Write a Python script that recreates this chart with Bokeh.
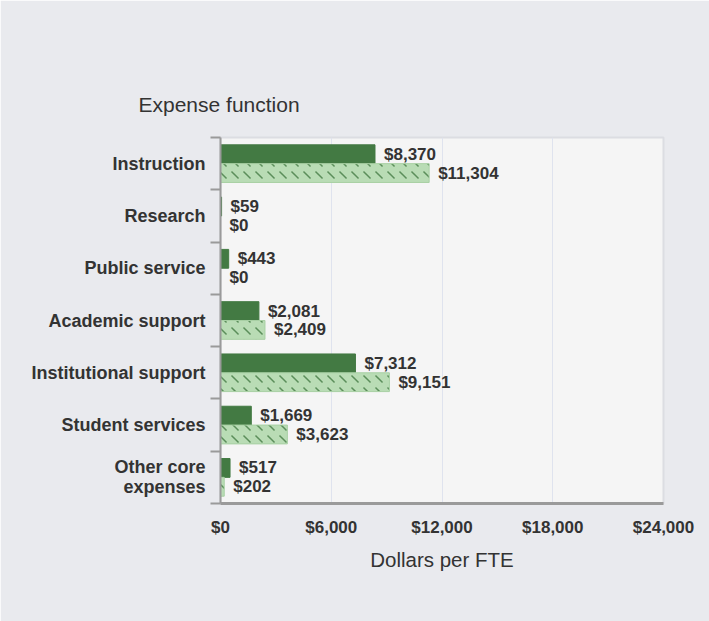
from bokeh.plotting import figure
from bokeh.models import (ColumnDataSource, Range1d, LinearAxis,
                          FixedTicker, Legend, LegendItem, CustomJSTickFormatter)
from bokeh.transform import dodge
from bokeh.embed import file_html
from bokeh.resources import INLINE
from bokeh.core.properties import value

# ---- data ----
categories = ["Instruction", "Research", "Public service", "Academic support",
              "Institutional support", "Student services", "Other core expenses"]
your_institution = [8370, 59, 443, 2081, 7312, 1669, 517]
comparison_median = [11304, 0, 0, 2409, 9151, 3623, 202]
x_ticks = [0, 6000, 12000, 18000, 24000]
x_tick_labels = ["$0", "$6,000", "$12,000", "$18,000", "$24,000"]
series_names = ["Your institution", "Comparison Group Median (N=22)"]
title_text = "Expense function"
x_title = "Dollars per FTE"
category_display = {"Other core expenses": "Other core\nexpenses"}

# ---- style ----
FONT = "Liberation Sans"
DARK = "#437a43"
LIGHT = "#b9dcb5"
TXT = "#333333"
PANEL = "#e9eaee"
SMALL = "17px"

n = len(categories)
idx = list(range(n))
src = ColumnDataSource(dict(
    pos=idx,
    mine=your_institution,
    comp=comparison_median,
    mine_lbl=[f"${v:,}" for v in your_institution],
    comp_lbl=[f"${v:,}" for v in comparison_median],
))

p = figure(frame_width=443, frame_height=366, output_backend="svg",
           toolbar_location=None,
           x_range=Range1d(x_ticks[0], x_ticks[-1]),
           y_range=Range1d(n - 0.5, -0.5),
           y_axis_location=None, x_axis_location="below",
           min_border_left=220, min_border_right=46,
           min_border_top=137, min_border_bottom=118)
p.background_fill_color = "#f5f5f5"
p.border_fill_color = PANEL
p.outline_line_color = "#dcdde2"
p.outline_line_width = 2
p.ygrid.visible = False
p.xgrid.ticker = FixedTicker(ticks=x_ticks)
p.xgrid.grid_line_color = "#dfe3ee"
p.xgrid.grid_line_width = 1

p.title.text = title_text
p.title.align = "left"
p.title.offset = -82
p.title.standoff = 43
p.title.text_font = FONT
p.title.text_font_style = "normal"
p.title.text_font_size = "21px"
p.title.text_color = TXT

OFF = 0.18
HGT = 0.36
r1 = p.hbar(y=dodge("pos", -OFF), right="mine", left=0, height=HGT,
            source=src, fill_color=DARK, line_color=DARK, line_width=1)
r2 = p.hbar(y=dodge("pos", OFF), right="comp", left=0, height=HGT,
            source=src, fill_color=LIGHT, line_color="#a8d0a4", line_width=1,
            hatch_pattern="left_diagonal_dash", hatch_color=DARK, hatch_scale=12,
            hatch_weight=1.5, hatch_alpha=0.8)

for xcol, off, lcol in (("mine", -OFF, "mine_lbl"), ("comp", OFF, "comp_lbl")):
    p.text(x=xcol, y=dodge("pos", off), text=lcol, source=src,
           x_offset=9, text_baseline="middle", text_align="left",
           text_font=value(FONT), text_font_style="bold", text_font_size=SMALL,
           text_color=TXT)

# x axis
xa = p.xaxis[0]
xa.ticker = FixedTicker(ticks=x_ticks)
xa.major_label_overrides = {t: l for t, l in zip(x_ticks, x_tick_labels)}
xa.major_tick_line_color = None
xa.major_tick_out = 0
xa.major_tick_in = 0
xa.minor_tick_line_color = None
xa.axis_line_color = "#9a9a9a"
xa.axis_line_width = 3
xa.major_label_standoff = 14
xa.major_label_text_font = FONT
xa.major_label_text_font_style = "bold"
xa.major_label_text_font_size = SMALL
xa.major_label_text_color = TXT
xa.axis_label = x_title
xa.axis_label_text_font = FONT
xa.axis_label_text_font_style = "normal"
xa.axis_label_text_font_size = "20.5px"
xa.axis_label_text_color = TXT
xa.axis_label_standoff = 8

# y axes: boundary ticks + category labels
edge_axis = LinearAxis(ticker=FixedTicker(ticks=[i - 0.5 for i in range(n + 1)]),
                       formatter=CustomJSTickFormatter(code="return ''"),
                       major_label_standoff=0,
                       major_tick_out=10, major_tick_in=0,
                       minor_tick_line_color=None,
                       axis_line_color="#9a9a9a", axis_line_width=2,
                       major_tick_line_color="#9a9a9a", major_tick_line_width=2)
p.add_layout(edge_axis, "left")
cat_axis = LinearAxis(ticker=FixedTicker(ticks=idx),
                      major_label_overrides={i: category_display.get(c, c)
                                             for i, c in zip(idx, categories)},
                      major_tick_line_color=None, minor_tick_line_color=None,
                      major_tick_out=0, major_tick_in=0,
                      axis_line_color=None,
                      major_label_standoff=5,
                      major_label_text_font=FONT,
                      major_label_text_font_style="bold",
                      major_label_text_font_size="18px",
                      major_label_text_line_height=1.0,
                      major_label_text_color=TXT)
p.add_layout(cat_axis, "left")

# legend
legend = Legend(items=[LegendItem(label=series_names[0], renderers=[r1]),
                       LegendItem(label=series_names[1], renderers=[r2])],
                orientation="horizontal", location=(-131, 4),
                glyph_width=48, glyph_height=25, spacing=21, label_standoff=11,
                label_text_font=FONT, label_text_font_size=SMALL,
                label_text_font_style="bold",
                label_text_color=TXT, background_fill_alpha=0,
                border_line_color=None, padding=0, margin=12)
p.add_layout(legend, "below")

open("out.html", "w").write(file_html(p, INLINE))
